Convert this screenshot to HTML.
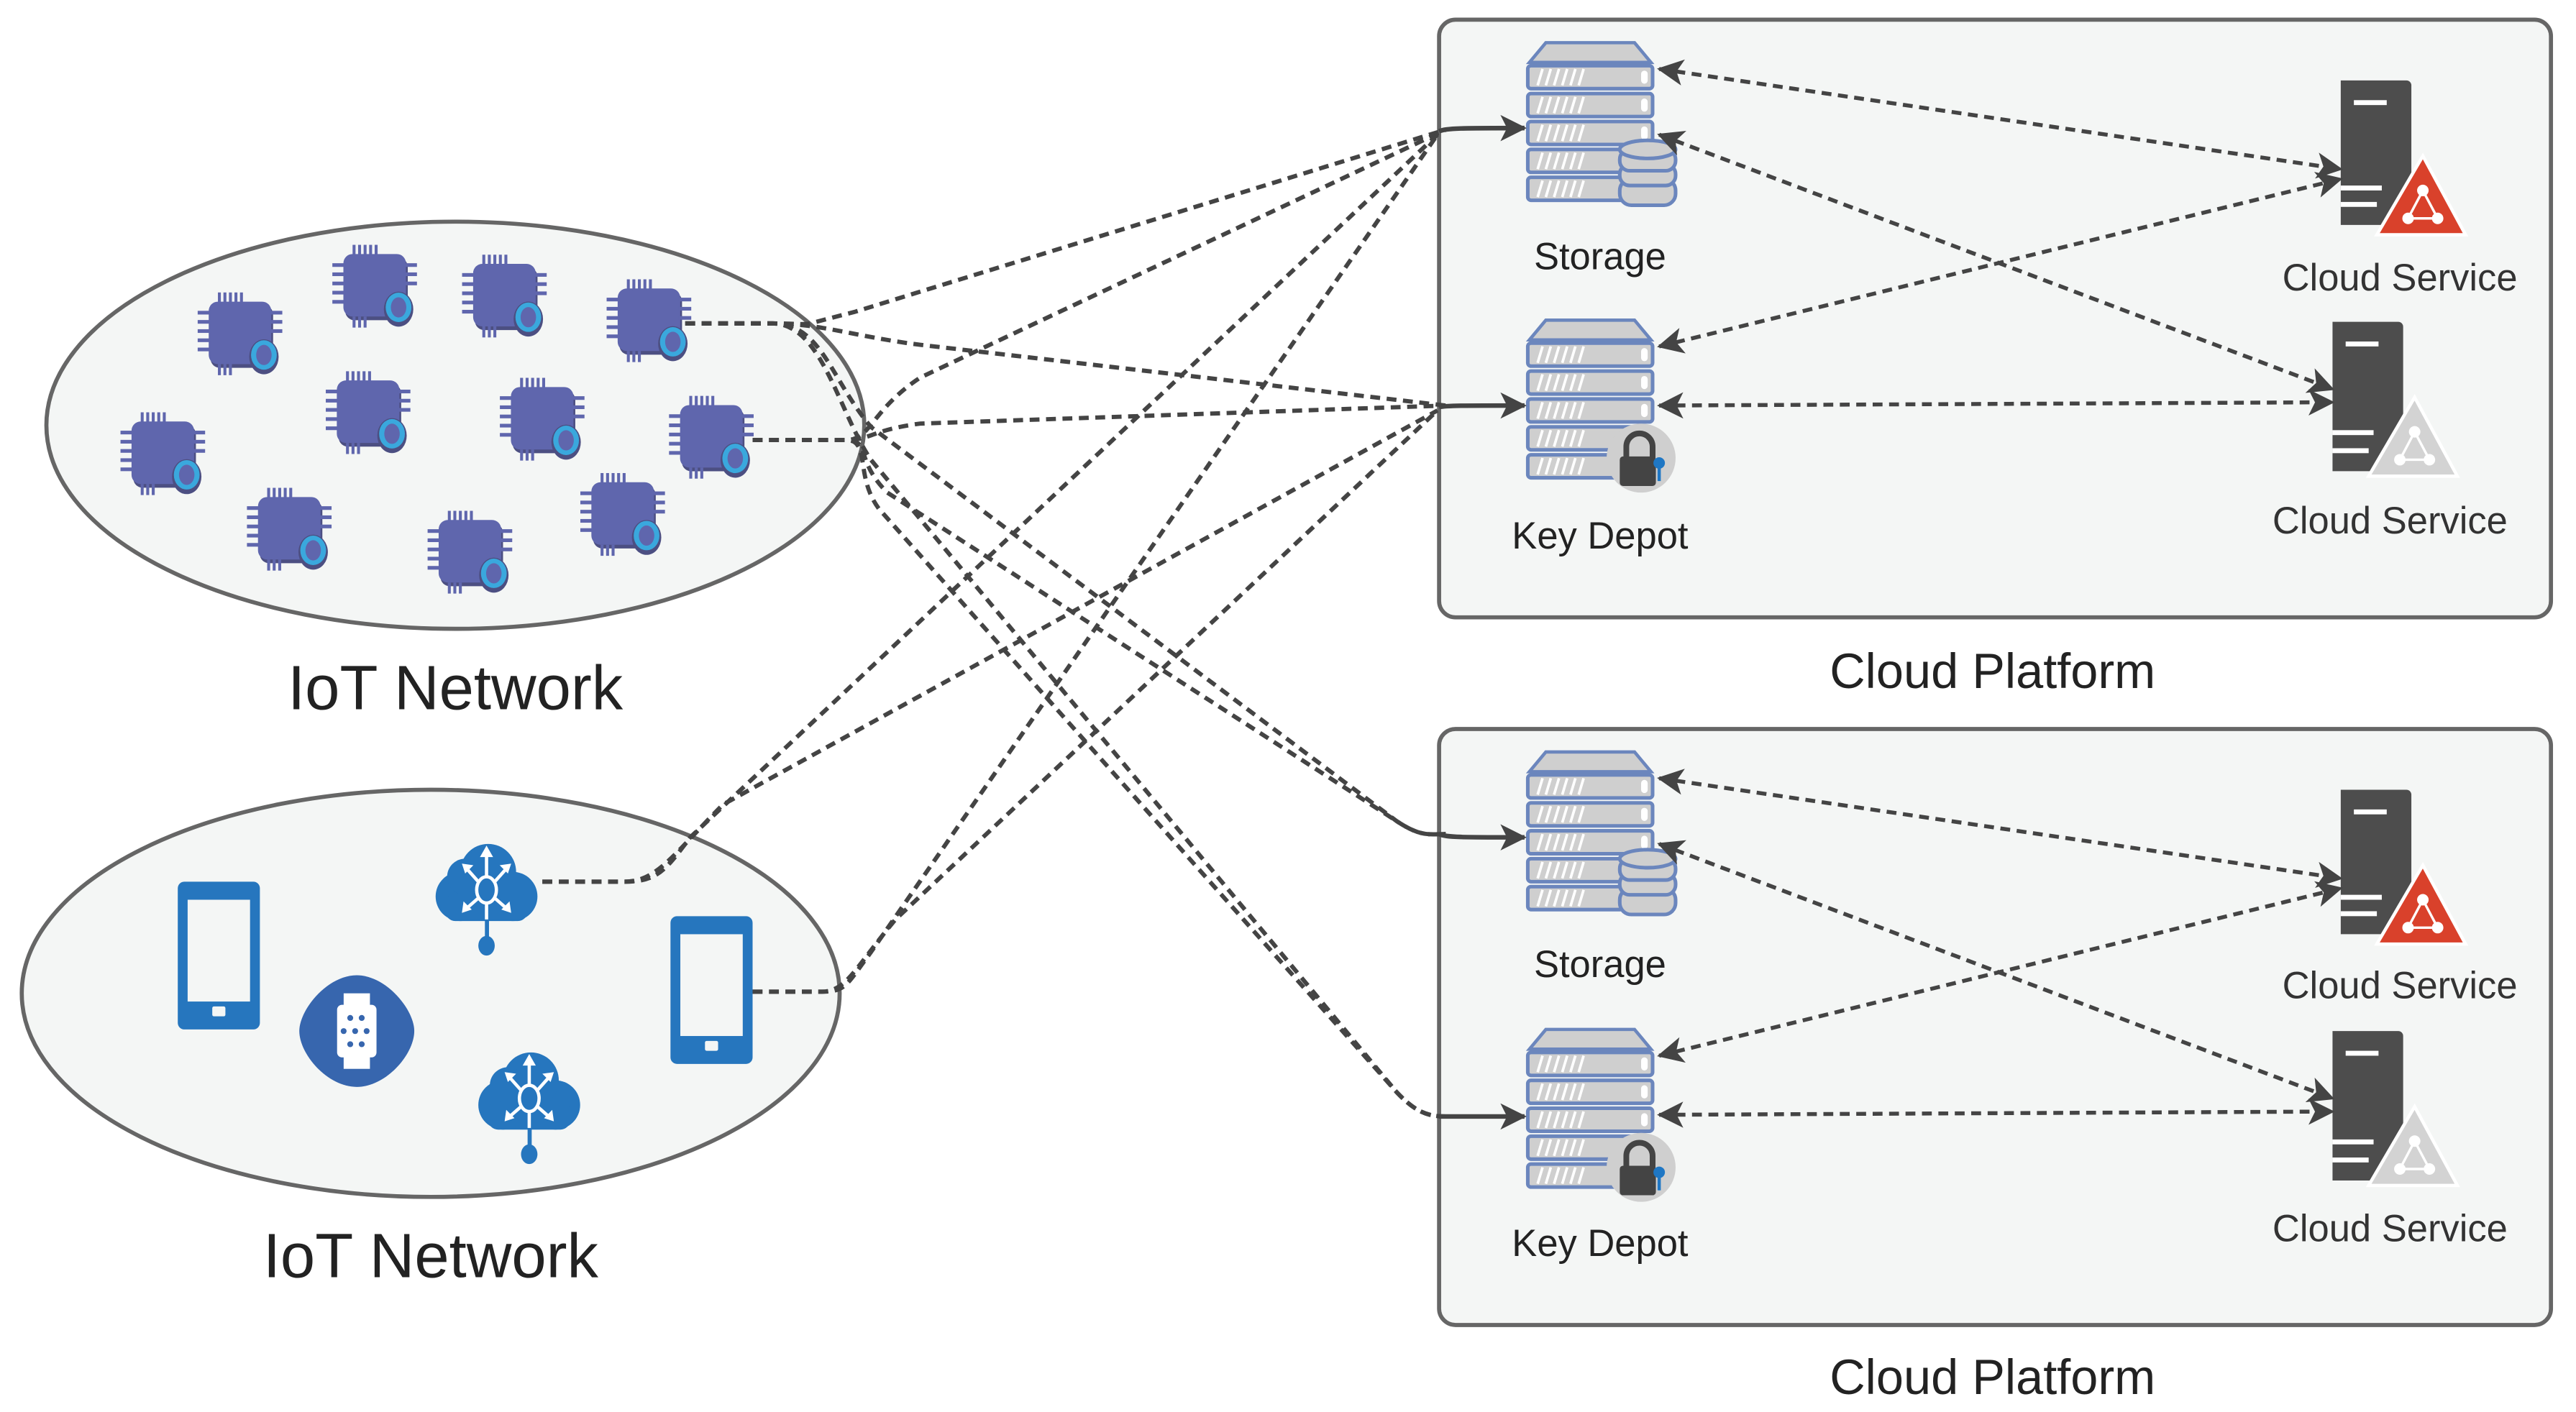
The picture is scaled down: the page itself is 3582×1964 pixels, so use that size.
<!DOCTYPE html>
<html><head><meta charset="utf-8"><style>
html,body{margin:0;padding:0;background:#fff;}
svg{display:block;}
text{font-family:"Liberation Sans",sans-serif;}
</style></head><body>
<svg width="3582" height="1964" viewBox="0 0 1568 860" xmlns="http://www.w3.org/2000/svg">
<defs>
<marker id="ah2" viewBox="0 0 12 12" refX="11" refY="6" markerWidth="16" markerHeight="16" orient="auto-start-reverse" markerUnits="userSpaceOnUse">
<path d="M0,0 L12,6 L0,12 L3,6 Z" fill="#444"/>
</marker>
<g id="chip0">
<rect x="-17" y="-17" width="34" height="34" rx="5" fill="#4c4f82"/>
<rect x="-18" y="-19" width="34" height="34" rx="5" fill="#5f66ad"/>
<g fill="#5f66ad">
<rect x="-13" y="-24" width="1.6" height="6"/><rect x="-10" y="-24" width="1.6" height="6"/><rect x="-7" y="-24" width="1.6" height="6"/><rect x="-4" y="-24" width="1.6" height="6"/><rect x="-1" y="-24" width="1.6" height="6"/>
<rect x="-13" y="15" width="1.6" height="6"/><rect x="-10" y="15" width="1.6" height="6"/><rect x="-7" y="15" width="1.6" height="6"/>
<rect x="-24" y="-14" width="7" height="2"/><rect x="-24" y="-9" width="7" height="2"/><rect x="-24" y="-4" width="7" height="2"/><rect x="-24" y="1" width="7" height="2"/><rect x="-24" y="6" width="7" height="2"/>
<rect x="15" y="-14" width="7" height="2"/><rect x="15" y="-9" width="7" height="2"/><rect x="15" y="-4" width="7" height="2"/>
</g>
<ellipse cx="12" cy="11" rx="8" ry="9.5" fill="#4c4f82"/>
<ellipse cx="12" cy="10" rx="7" ry="8" fill="#3aa8dd"/>
<ellipse cx="12" cy="10" rx="4.2" ry="5.5" fill="#5f66ad"/>
</g>
<g id="chip"><use href="#chip0" transform="scale(1.12)"/></g>
<g id="rack">
<path d="M-37,-43 L-27,-55 L27,-55 L37,-43 Z" fill="#cfcfcf" stroke="#6b86bd" stroke-width="2"/>
<g fill="#cfcfcf" stroke="#6b86bd" stroke-width="2.2">
<rect x="-38" y="-41" width="76" height="14" rx="2"/>
<rect x="-38" y="-24" width="76" height="14" rx="2"/>
<rect x="-38" y="-7" width="76" height="14" rx="2"/>
<rect x="-38" y="10" width="76" height="14" rx="2"/>
<rect x="-38" y="27" width="76" height="14" rx="2"/>
</g>
<g stroke="#fff" stroke-width="1.6">
<path d="M-32,-29 l3,-10 M-27,-29 l3,-10 M-22,-29 l3,-10 M-17,-29 l3,-10 M-12,-29 l3,-10 M-7,-29 l3,-10"/>
<path d="M-32,-12 l3,-10 M-27,-12 l3,-10 M-22,-12 l3,-10 M-17,-12 l3,-10 M-12,-12 l3,-10 M-7,-12 l3,-10"/>
<path d="M-32,5 l3,-10 M-27,5 l3,-10 M-22,5 l3,-10 M-17,5 l3,-10 M-12,5 l3,-10 M-7,5 l3,-10"/>
<path d="M-32,22 l3,-10 M-27,22 l3,-10 M-22,22 l3,-10 M-17,22 l3,-10 M-12,22 l3,-10 M-7,22 l3,-10"/>
<path d="M-32,39 l3,-10 M-27,39 l3,-10 M-22,39 l3,-10 M-17,39 l3,-10 M-12,39 l3,-10 M-7,39 l3,-10"/>
</g>
<g fill="#fff"><rect x="31" y="-38" width="4" height="8" rx="2"/><rect x="31" y="-21" width="4" height="8" rx="2"/><rect x="31" y="-4" width="4" height="8" rx="2"/></g>
</g>
<g id="storage">
<use href="#rack"/>
<g fill="#cfcfcf" stroke="#6b86bd" stroke-width="2.2">
<rect x="18" y="28" width="34" height="16" rx="7"/>
<rect x="18" y="19" width="34" height="13" rx="6"/>
<rect x="18" y="10" width="34" height="13" rx="6"/>
<ellipse cx="35" cy="10" rx="17" ry="5.5"/>
</g>
</g>
<g id="keydepot">
<use href="#rack"/>
<circle cx="31" cy="29" r="21" fill="#cfcfcf"/>
<path d="M22,29 v-7 a8,8 0 0 1 16,0 v7" fill="none" stroke="#444" stroke-width="3.5"/>
<rect x="18" y="28" width="22" height="18" rx="2" fill="#444"/>
<circle cx="42" cy="32" r="3.5" fill="#1f77c4"/>
<rect x="41" y="34" width="2" height="9" fill="#1f77c4"/>
</g>
<g id="srvred">
<path d="M0,0 h40 a3,3 0 0 1 3,3 v85 h-43 Z" fill="#4d4d4d"/>
<rect x="8" y="12" width="20" height="3" fill="#fff"/>
<rect x="0" y="64" width="25" height="3" fill="#fff"/><rect x="0" y="74" width="22" height="3" fill="#fff"/>
<path d="M50,46 L76,94 L22,94 Z" fill="#d9412b" stroke="#fff" stroke-width="2"/>
<g fill="#fff"><circle cx="50" cy="67" r="3.5"/><circle cx="41" cy="84" r="3.5"/><circle cx="59" cy="84" r="3.5"/></g>
<path d="M50,67 L41,84 M50,67 L59,84 M41,84 H59" stroke="#fff" stroke-width="1.5"/>
</g>
<g id="srvgray">
<path d="M0,0 h40 a3,3 0 0 1 3,3 v88 h-43 Z" fill="#4d4d4d"/>
<rect x="8" y="12" width="20" height="3" fill="#fff"/>
<rect x="0" y="66" width="25" height="3" fill="#fff"/><rect x="0" y="77" width="22" height="3" fill="#fff"/>
<path d="M50,46 L76,94 L22,94 Z" fill="#d3d3d3" stroke="#fff" stroke-width="2"/>
<g fill="#fff"><circle cx="50" cy="67" r="3.5"/><circle cx="41" cy="84" r="3.5"/><circle cx="59" cy="84" r="3.5"/></g>
<path d="M50,67 L41,84 M50,67 L59,84 M41,84 H59" stroke="#fff" stroke-width="1.5"/>
</g>
<g id="hub" fill="#2676be">
<circle cx="-16" cy="8" r="15"/><circle cx="16" cy="8" r="15"/><circle cx="1" cy="-7" r="17"/><circle cx="-13" cy="-4" r="11"/>
<rect x="-25" y="6" width="50" height="17" rx="6"/>
<rect x="-1" y="18" width="2.5" height="20"/><ellipse cx="0" cy="38" rx="5" ry="6"/>
<g stroke="#fff" stroke-width="2" fill="none"><ellipse cx="0" cy="4" rx="6" ry="8"/><path d="M0,-4 V-20 M0,12 V22 M-5,-1 L-13,-10 M5,-1 L13,-10 M-5,9 L-13,16 M5,9 L13,16"/></g>
<g fill="#fff"><path d="M0,-23 l-4,7 h8Z M-15,-12 l7,1 -5,5Z M15,-12 l-7,1 5,5Z M-15,18 l1,-7 5,5Z M15,18 l-1,-7 -5,5Z"/></g>
</g>
<g id="phone">
<rect x="-25" y="-45" width="50" height="90" rx="4" fill="#2676be"/>
<rect x="-19" y="-34" width="38" height="62" fill="#f4f6f5"/>
<rect x="-4" y="31" width="8" height="6" rx="1" fill="#f4f6f5"/>
</g>
</defs>

<ellipse cx="277" cy="259" rx="249" ry="124" fill="#f4f6f5" stroke="#666" stroke-width="2.5"/>
<ellipse cx="262" cy="605" rx="249" ry="124" fill="#f4f6f5" stroke="#666" stroke-width="2.5"/>
<text x="277" y="432" font-size="38" text-anchor="middle" fill="#222">IoT Network</text>
<text x="262" y="778" font-size="38" text-anchor="middle" fill="#222">IoT Network</text>

<rect x="876" y="12" width="677" height="364" rx="10" fill="#f4f6f5" stroke="#666" stroke-width="2.5"/>
<rect x="876" y="444" width="677" height="363" rx="10" fill="#f4f6f5" stroke="#666" stroke-width="2.5"/>
<text x="1213" y="419" font-size="30" text-anchor="middle" fill="#222">Cloud Platform</text>
<text x="1213" y="849" font-size="30" text-anchor="middle" fill="#222">Cloud Platform</text>

<use href="#chip" x="147" y="205"/><use href="#chip" x="229" y="176"/><use href="#chip" x="308" y="182"/>
<use href="#chip" x="396" y="197"/><use href="#chip" x="225" y="253"/><use href="#chip" x="331" y="257"/>
<use href="#chip" x="100" y="278"/><use href="#chip" x="434" y="268"/><use href="#chip" x="177" y="324"/>
<use href="#chip" x="287" y="338"/><use href="#chip" x="380" y="315"/>

<use href="#phone" x="133" y="582"/>
<use href="#phone" x="433" y="603"/>
<path d="M217,594 C235,594 252,615 252,628 C252,642 235,662 217,662 C199,662 182,642 182,628 C182,615 199,594 217,594 Z" fill="#3766ae"/>
<rect x="205" y="612" width="24" height="32" rx="3" fill="#fff"/><rect x="209" y="605" width="16" height="8" fill="#fff"/><rect x="209" y="643" width="16" height="8" fill="#fff"/>
<g fill="#3766ae"><circle cx="213" cy="620" r="1.8"/><circle cx="220" cy="620" r="1.8"/><circle cx="209" cy="628" r="1.8"/><circle cx="216" cy="628" r="1.8"/><circle cx="223" cy="628" r="1.8"/><circle cx="213" cy="636" r="1.8"/><circle cx="220" cy="636" r="1.8"/></g>
<use href="#hub" x="296" y="538"/>
<use href="#hub" x="322" y="665"/>

<use href="#storage" x="968" y="81"/>
<use href="#keydepot" x="968" y="250"/>
<use href="#storage" x="968" y="513"/>
<use href="#keydepot" x="968" y="682"/>
<text x="974" y="164" font-size="23" text-anchor="middle" fill="#222">Storage</text>
<text x="974" y="334" font-size="23" text-anchor="middle" fill="#222">Key Depot</text>
<text x="974" y="595" font-size="23" text-anchor="middle" fill="#222">Storage</text>
<text x="974" y="765" font-size="23" text-anchor="middle" fill="#222">Key Depot</text>
<use href="#srvred" x="1425" y="49"/>
<use href="#srvgray" x="1420" y="196"/>
<use href="#srvred" x="1425" y="481"/>
<use href="#srvgray" x="1420" y="628"/>
<g font-size="23" text-anchor="middle" fill="#333">
<text x="1461" y="177">Cloud Service</text><text x="1455" y="325">Cloud Service</text>
<text x="1461" y="608">Cloud Service</text><text x="1455" y="756">Cloud Service</text>
</g>

<g fill="none" stroke="#444" stroke-width="2.4" stroke-dasharray="6,4" marker-start="url(#ah2)" marker-end="url(#ah2)">
<path d="M1010,42 L1425,103"/>
<path d="M1010,82 L1420,237"/>
<path d="M1010,211 L1425,109"/>
<path d="M1010,247 L1420,245"/>
<path d="M1010,474 L1425,535"/>
<path d="M1010,514 L1420,669"/>
<path d="M1010,643 L1425,541"/>
<path d="M1010,679 L1420,677"/>
</g>

<g fill="none" stroke="#444" stroke-width="2.6" stroke-dasharray="6,4">
<path d="M417,197 H470 C500,197 480,200 520,190 L880,79"/>
<path d="M417,197 H470 C500,197 520,205 560,210 L880,247"/>
<path d="M417,197 H470 C500,197 505,230 530,260 L850,500 C865,510 870,508 880,508"/>
<path d="M417,197 H470 C500,197 510,250 530,280 L850,665 C862,678 870,680 880,680"/>
<path d="M458,268 H515 C530,268 530,262 560,258 L880,247"/>
<path d="M458,268 H515 C530,268 530,250 560,230 L880,79"/>
<path d="M458,268 H515 C530,268 520,280 540,300 L850,500 C865,510 870,508 880,508"/>
<path d="M458,268 H515 C530,268 520,290 535,310 L850,665 C862,678 870,680 880,680"/>
<path d="M330,537 H380 C400,537 405,530 420,510 L875,82"/>
<path d="M330,537 H380 C400,537 410,520 440,490 L875,250"/>
<path d="M458,604 H500 C515,604 515,600 530,580 L875,82"/>
<path d="M458,604 H500 C515,604 520,590 545,560 L875,250"/>
</g>
<g fill="none" stroke="#444" stroke-width="2.8" marker-end="url(#ah2)">
<path d="M876,80 C880,78 890,78 928,78"/>
<path d="M876,248 C880,247 890,247 928,247"/>
<path d="M876,508 C880,510 890,510 928,510"/>
<path d="M876,680 C880,680 890,680 928,680"/>
</g>
</svg>
</body></html>
